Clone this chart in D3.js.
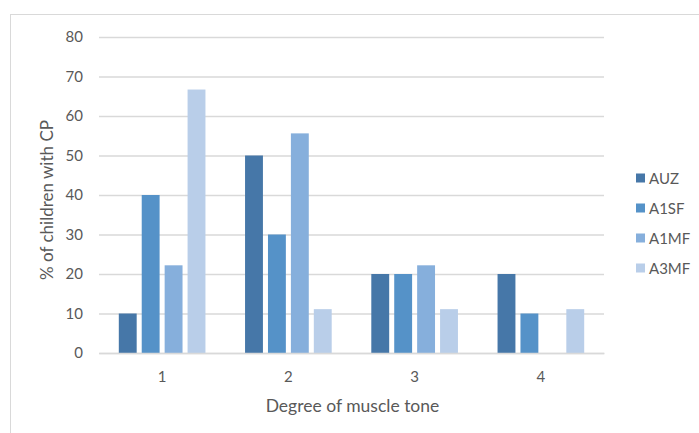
<!DOCTYPE html>
<html>
<head>
<meta charset="utf-8">
<script src="https://cdn.jsdelivr.net/npm/d3@7"></script>
<style>
  body { margin: 0; background: #fff; }
  svg text { font-family: Lato, "Open Sans", sans-serif; fill: #595959; }
</style>
</head>
<body>
<svg width="699" height="433"></svg>
<script>
// data
var categories = ['1', '2', '3', '4']
var series = ['AUZ', 'A1SF', 'A1MF', 'A3MF']
var auz  = [10, 50, 20, 20]
var a1sf = [40, 30, 20, 10]
var a1mf = [22.2, 55.6, 22.2, 0]
var a3mf = [66.7, 11.1, 11.1, 11.1]
var yTicks = [0, 10, 20, 30, 40, 50, 60, 70, 80]

var colors = ['#4677a8', '#5592c8', '#86afdc', '#b9cee9']
var values = [auz, a1sf, a1mf, a3mf]

var rows = categories.map(function (c, i) {
  return { cat: c, vals: series.map(function (s, j) { return { name: s, v: values[j][i] } }) }
})

const svg = d3.select('svg')

// outer frame
svg.append('rect')
  .attr('x', 10.5).attr('y', 14.5)
  .attr('width', 700).attr('height', 430)
  .attr('fill', 'none').attr('stroke', '#d9d9d9')

const margin = { top: 37, left: 99, right: 95, bottom: 80 }
const width = 604 - margin.left
const height = 353 - margin.top

const chart = svg.append('g')
  .attr('transform', `translate(${margin.left}, ${margin.top})`)

const yScale = d3.scaleLinear().domain([0, 80]).range([height, 0])
const x0 = d3.scaleBand().domain(categories).range([0, width])
const x1 = d3.scaleBand().domain(series)
  .range([19.8, x0.bandwidth() - 19.8])
  .paddingInner(0.22)

// grid
chart.append('g')
  .attr('class', 'grid')
  .call(d3.axisLeft(yScale).tickValues(yTicks).tickSize(-width).tickFormat(''))
  .call(g => g.select('.domain').remove())
  .selectAll('line')
  .attr('stroke', '#d9d9d9')
  .attr('stroke-width', 1.3)

// y tick labels
chart.append('g')
  .call(d3.axisLeft(yScale).tickValues(yTicks).tickSize(0).tickPadding(16))
  .call(g => g.select('.domain').remove())
  .selectAll('text')
  .style('font-size', '15px')
  .attr('fill', '#595959')

// bars
const groups = chart.selectAll('.grp')
  .data(rows)
  .enter()
  .append('g')
  .attr('class', 'grp')
  .attr('transform', d => `translate(${x0(d.cat)}, 0)`)

groups.selectAll('rect')
  .data(d => d.vals)
  .enter()
  .append('rect')
  .attr('x', d => x1(d.name))
  .attr('y', d => yScale(d.v))
  .attr('width', x1.bandwidth())
  .attr('height', d => height - yScale(d.v))
  .attr('fill', (d, i) => colors[i])

// x axis
chart.append('g')
  .attr('transform', `translate(0, ${height})`)
  .call(d3.axisBottom(x0).tickSize(0).tickPadding(18))
  .call(g => g.select('.domain').attr('stroke', '#d9d9d9').attr('stroke-width', 1.3))
  .selectAll('text')
  .style('font-size', '15px')
  .attr('fill', '#595959')

// axis titles
svg.append('text')
  .attr('x', margin.left + width / 2 + 1)
  .attr('y', 412)
  .attr('text-anchor', 'middle')
  .style('font-size', '17.5px')
  .text('Degree of muscle tone')

svg.append('text')
  .attr('transform', 'translate(53, 200) rotate(-90)')
  .attr('text-anchor', 'middle')
  .style('font-size', '17px')
  .text('% of children with CP')

// legend
const legend = svg.append('g')
  .selectAll('g')
  .data(series)
  .enter()
  .append('g')
  .attr('transform', (d, i) => `translate(636, ${178 + i * 30})`)

legend.append('rect')
  .attr('x', 0).attr('y', -4.5)
  .attr('width', 9).attr('height', 9)
  .attr('fill', (d, i) => colors[i])

legend.append('text')
  .attr('x', 13)
  .attr('y', 5.5)
  .style('font-size', '15px')
  .text(d => d)
</script>
</body>
</html>
